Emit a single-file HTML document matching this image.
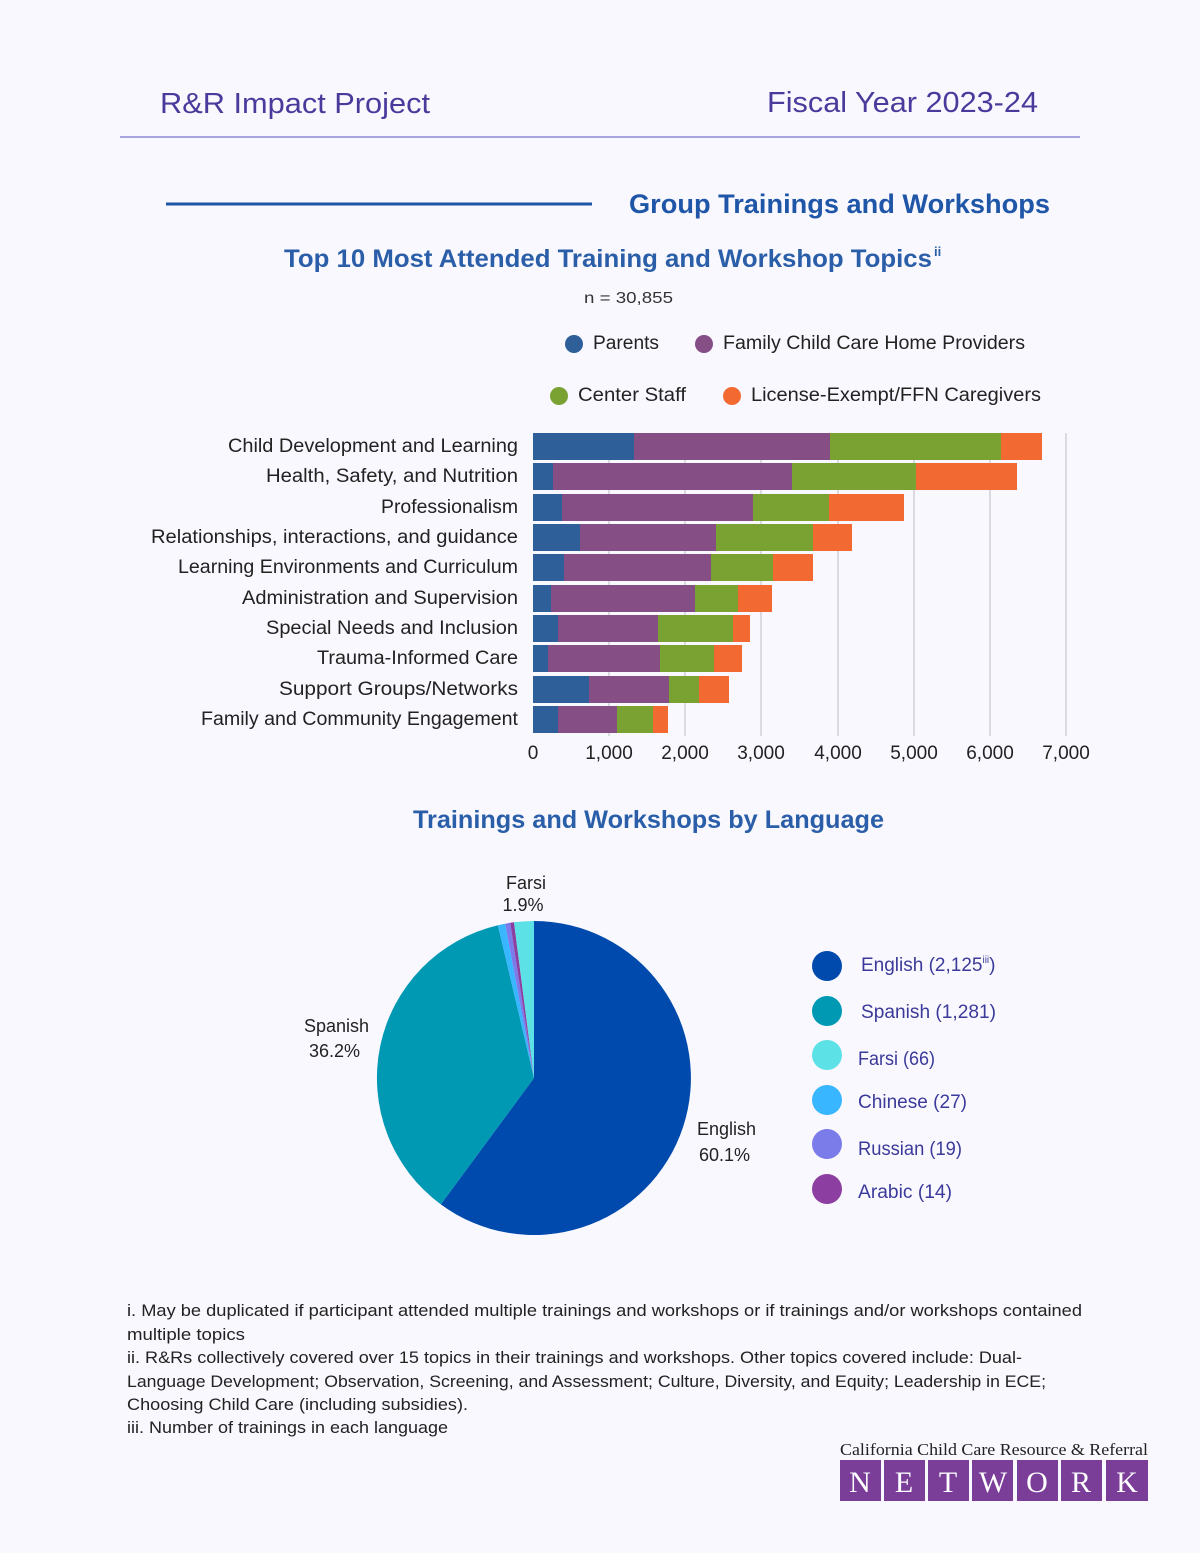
<!DOCTYPE html>
<html><head><meta charset="utf-8"><style>
html,body{margin:0;padding:0;background:#f9f8fe;}
svg{display:block;font-family:"Liberation Sans","DejaVu Sans",sans-serif;}
</style></head><body>
<svg width="1200" height="1553" viewBox="0 0 1200 1553" xmlns="http://www.w3.org/2000/svg">
<rect width="1200" height="1553" fill="#f9f8fe"/>
<text x="160" y="113" font-size="29" fill="#4b3a9c" textLength="270" lengthAdjust="spacingAndGlyphs">R&amp;R Impact Project</text>
<text x="767" y="112" font-size="29" fill="#4b3a9c" textLength="271" lengthAdjust="spacingAndGlyphs">Fiscal Year 2023-24</text>
<line x1="120" y1="137" x2="1080" y2="137" stroke="#a9a3e0" stroke-width="2"/>
<line x1="166" y1="204" x2="592" y2="204" stroke="#1f56a8" stroke-width="3"/>
<text x="629" y="213" font-size="27" font-weight="bold" fill="#1f56a8" textLength="421" lengthAdjust="spacingAndGlyphs">Group Trainings and Workshops</text>
<text x="284" y="267" font-size="25" font-weight="bold" fill="#2a5ea8" textLength="648" lengthAdjust="spacingAndGlyphs">Top 10 Most Attended Training and Workshop Topics</text>
<text x="934" y="256" font-size="13" font-weight="bold" fill="#2a5ea8">ii</text>
<text x="584" y="303" font-size="16" fill="#333" textLength="89" lengthAdjust="spacingAndGlyphs">n =  30,855</text>
<g font-size="19" fill="#222">
<circle cx="574" cy="344" r="9" fill="#2e5f98"/><text x="593" y="349" textLength="66" lengthAdjust="spacingAndGlyphs">Parents</text>
<circle cx="704" cy="344" r="9" fill="#854e85"/><text x="723" y="349" textLength="302" lengthAdjust="spacingAndGlyphs">Family Child Care Home Providers</text>
<circle cx="559" cy="396" r="9" fill="#79a232"/><text x="578" y="401" textLength="108" lengthAdjust="spacingAndGlyphs">Center Staff</text>
<circle cx="732" cy="396" r="9" fill="#f26a32"/><text x="751" y="401" textLength="290" lengthAdjust="spacingAndGlyphs">License-Exempt/FFN Caregivers</text>
</g>
<g stroke="#cfcfd6" stroke-width="1.5">
<line x1="609" y1="433" x2="609" y2="736"/><line x1="685" y1="433" x2="685" y2="736"/><line x1="761" y1="433" x2="761" y2="736"/><line x1="838" y1="433" x2="838" y2="736"/><line x1="914" y1="433" x2="914" y2="736"/><line x1="990" y1="433" x2="990" y2="736"/><line x1="1066" y1="433" x2="1066" y2="736"/>
</g>
<g>
<rect x="533" y="433" width="101" height="27" fill="#2e5f98"/><rect x="634" y="433" width="196" height="27" fill="#854e85"/><rect x="830" y="433" width="171" height="27" fill="#79a232"/><rect x="1001" y="433" width="41" height="27" fill="#f26a32"/>
<rect x="533" y="463" width="20" height="27" fill="#2e5f98"/><rect x="553" y="463" width="239" height="27" fill="#854e85"/><rect x="792" y="463" width="124" height="27" fill="#79a232"/><rect x="916" y="463" width="101" height="27" fill="#f26a32"/>
<rect x="533" y="494" width="29" height="27" fill="#2e5f98"/><rect x="562" y="494" width="191" height="27" fill="#854e85"/><rect x="753" y="494" width="76" height="27" fill="#79a232"/><rect x="829" y="494" width="75" height="27" fill="#f26a32"/>
<rect x="533" y="524" width="47" height="27" fill="#2e5f98"/><rect x="580" y="524" width="136" height="27" fill="#854e85"/><rect x="716" y="524" width="97" height="27" fill="#79a232"/><rect x="813" y="524" width="39" height="27" fill="#f26a32"/>
<rect x="533" y="554" width="31" height="27" fill="#2e5f98"/><rect x="564" y="554" width="147" height="27" fill="#854e85"/><rect x="711" y="554" width="62" height="27" fill="#79a232"/><rect x="773" y="554" width="40" height="27" fill="#f26a32"/>
<rect x="533" y="585" width="18" height="27" fill="#2e5f98"/><rect x="551" y="585" width="144" height="27" fill="#854e85"/><rect x="695" y="585" width="43" height="27" fill="#79a232"/><rect x="738" y="585" width="34" height="27" fill="#f26a32"/>
<rect x="533" y="615" width="25" height="27" fill="#2e5f98"/><rect x="558" y="615" width="100" height="27" fill="#854e85"/><rect x="658" y="615" width="75" height="27" fill="#79a232"/><rect x="733" y="615" width="17" height="27" fill="#f26a32"/>
<rect x="533" y="645" width="15" height="27" fill="#2e5f98"/><rect x="548" y="645" width="112" height="27" fill="#854e85"/><rect x="660" y="645" width="54" height="27" fill="#79a232"/><rect x="714" y="645" width="28" height="27" fill="#f26a32"/>
<rect x="533" y="676" width="56" height="27" fill="#2e5f98"/><rect x="589" y="676" width="80" height="27" fill="#854e85"/><rect x="669" y="676" width="30" height="27" fill="#79a232"/><rect x="699" y="676" width="30" height="27" fill="#f26a32"/>
<rect x="533" y="706" width="25" height="27" fill="#2e5f98"/><rect x="558" y="706" width="59" height="27" fill="#854e85"/><rect x="617" y="706" width="36" height="27" fill="#79a232"/><rect x="653" y="706" width="15" height="27" fill="#f26a32"/>
</g>
<g font-size="19" fill="#222" lengthAdjust="spacingAndGlyphs">
<text x="228" y="452" textLength="290" lengthAdjust="spacingAndGlyphs">Child Development and Learning</text>
<text x="266" y="482" textLength="252" lengthAdjust="spacingAndGlyphs">Health, Safety, and Nutrition</text>
<text x="381" y="513" textLength="137" lengthAdjust="spacingAndGlyphs">Professionalism</text>
<text x="151" y="543" textLength="367" lengthAdjust="spacingAndGlyphs">Relationships, interactions, and guidance</text>
<text x="178" y="573" textLength="340" lengthAdjust="spacingAndGlyphs">Learning Environments and Curriculum</text>
<text x="242" y="604" textLength="276" lengthAdjust="spacingAndGlyphs">Administration and Supervision</text>
<text x="266" y="634" textLength="252" lengthAdjust="spacingAndGlyphs">Special Needs and Inclusion</text>
<text x="317" y="664" textLength="201" lengthAdjust="spacingAndGlyphs">Trauma-Informed Care</text>
<text x="279" y="695" textLength="239" lengthAdjust="spacingAndGlyphs">Support Groups/Networks</text>
<text x="201" y="725" textLength="317" lengthAdjust="spacingAndGlyphs">Family and Community Engagement</text>
</g>
<g font-size="19" fill="#222" text-anchor="middle">
<text x="533" y="759">0</text><text x="609" y="759">1,000</text><text x="685" y="759">2,000</text><text x="761" y="759">3,000</text><text x="838" y="759">4,000</text><text x="914" y="759">5,000</text><text x="990" y="759">6,000</text><text x="1066" y="759">7,000</text>
</g>
<text x="413" y="828" font-size="25" font-weight="bold" fill="#2a5ea8" textLength="471" lengthAdjust="spacingAndGlyphs">Trainings and Workshops by Language</text>
<g>
<path d="M534,1078 L534,921 A157,157 0 1,1 440.8,1204.4 Z" fill="#004aad"/>
<path d="M534,1078 L440.8,1204.4 A157,157 0 0,1 497.9,925.2 Z" fill="#0099b4"/>
<path d="M534,1078 L497.9,925.2 A157,157 0 0,1 505.1,923.7 Z" fill="#38b6ff"/>
<path d="M534,1078 L505.1,923.7 A157,157 0 0,1 510.2,922.8 Z" fill="#7b7bea"/>
<path d="M534,1078 L510.2,922.8 A157,157 0 0,1 514,922.3 Z" fill="#8c3fa0"/>
<path d="M534,1078 L514,922.3 A157,157 0 0,1 534,921 Z" fill="#5ce1e6"/>
</g>
<g font-size="18" fill="#222">
<text x="526" y="889" text-anchor="middle">Farsi</text><text x="523" y="911" text-anchor="middle">1.9%</text>
<text x="304" y="1032">Spanish</text><text x="309" y="1057">36.2%</text>
<text x="697" y="1135">English</text><text x="699" y="1161">60.1%</text>
</g>
<g font-size="19" fill="#3b3a9a">
<circle cx="827" cy="966" r="15" fill="#004aad"/><text x="861" y="971">English (2,125<tspan font-size="10" dy="-8">iii</tspan><tspan dy="8">)</tspan></text>
<circle cx="827" cy="1011" r="15" fill="#0099b4"/><text x="861" y="1018" textLength="135" lengthAdjust="spacingAndGlyphs">Spanish (1,281)</text>
<circle cx="827" cy="1055" r="15" fill="#5ce1e6"/><text x="858" y="1065" textLength="77" lengthAdjust="spacingAndGlyphs">Farsi (66)</text>
<circle cx="827" cy="1100" r="15" fill="#38b6ff"/><text x="858" y="1108" textLength="109" lengthAdjust="spacingAndGlyphs">Chinese (27)</text>
<circle cx="827" cy="1144" r="15" fill="#7b7bea"/><text x="858" y="1155" textLength="104" lengthAdjust="spacingAndGlyphs">Russian (19)</text>
<circle cx="827" cy="1189" r="15" fill="#8c3fa0"/><text x="858" y="1198" textLength="94" lengthAdjust="spacingAndGlyphs">Arabic (14)</text>
</g>
<g font-size="16.5" fill="#222">
<text x="127" y="1316" textLength="955" lengthAdjust="spacingAndGlyphs">i. May be duplicated if participant attended multiple trainings and workshops or if trainings and/or workshops contained</text>
<text x="127" y="1340" textLength="118" lengthAdjust="spacingAndGlyphs">multiple topics</text>
<text x="127" y="1363" textLength="895" lengthAdjust="spacingAndGlyphs">ii. R&amp;Rs collectively covered over 15 topics in their trainings and workshops. Other topics covered include: Dual-</text>
<text x="127" y="1387" textLength="919" lengthAdjust="spacingAndGlyphs">Language Development; Observation, Screening, and Assessment; Culture, Diversity, and Equity; Leadership in ECE;</text>
<text x="127" y="1410" textLength="341" lengthAdjust="spacingAndGlyphs">Choosing Child Care (including subsidies).</text>
<text x="127" y="1433" textLength="321" lengthAdjust="spacingAndGlyphs">iii. Number of trainings in each language</text>
</g>
<text x="840" y="1455" font-size="16.5" fill="#222" font-family="Liberation Serif,serif" textLength="308" lengthAdjust="spacingAndGlyphs">California Child Care Resource &amp; Referral</text>
<g font-family="Liberation Serif,serif" font-size="30" fill="#fff" text-anchor="middle">
<rect x="840" y="1460" width="41" height="41" fill="#7a3d98"/><text x="860" y="1492">N</text>
<rect x="884" y="1460" width="41" height="41" fill="#7a3d98"/><text x="904" y="1492">E</text>
<rect x="928" y="1460" width="41" height="41" fill="#7a3d98"/><text x="948" y="1492">T</text>
<rect x="972" y="1460" width="41" height="41" fill="#7a3d98"/><text x="993" y="1492">W</text>
<rect x="1017" y="1460" width="41" height="41" fill="#7a3d98"/><text x="1037" y="1492">O</text>
<rect x="1061" y="1460" width="41" height="41" fill="#7a3d98"/><text x="1081" y="1492">R</text>
<rect x="1106" y="1460" width="42" height="41" fill="#7a3d98"/><text x="1127" y="1492">K</text>
</g>
</svg>
</body></html>
